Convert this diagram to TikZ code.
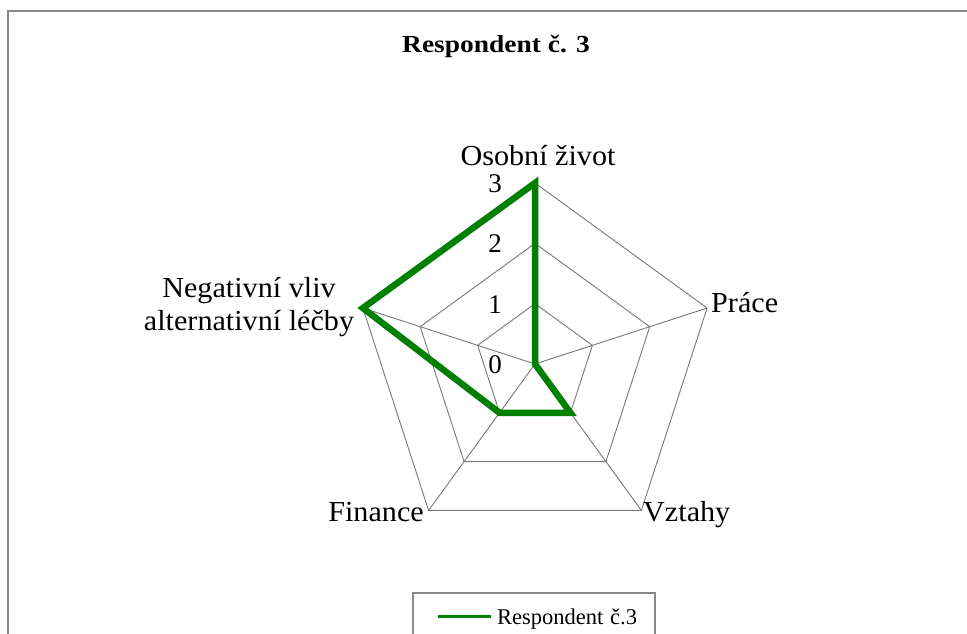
\documentclass[tikz,border=0pt]{standalone}
\usepackage{fontspec}
\usepackage{graphicx}
\setmainfont{Liberation Serif}
\usetikzlibrary{calc}
\definecolor{framegray}{RGB}{136,136,136}
\definecolor{gridgray}{RGB}{120,120,120}
\definecolor{seriesgreen}{RGB}{0,128,0}
% horizontally widened text
\newcommand\hstretch[2]{\scalebox{#1}[1]{#2}}
\begin{document}
\begin{tikzpicture}[x=1pt,y=1pt,
  chartframe/.style={draw=framegray,line width=1.6pt},
  gridline/.style={draw=gridgray,line width=0.9pt},
  seriesline/.style={draw=seriesgreen,line width=6.5pt,line join=miter,miter limit=10},
  legendframe/.style={draw=framegray,line width=1.3pt},
  legendline/.style={draw=seriesgreen,line width=3pt},
  titlelabel/.style={inner sep=0pt,font=\fontsize{24.5}{29}\selectfont\bfseries},
  catlabel/.style={inner sep=0pt,font=\fontsize{29}{32.5}\selectfont},
  ticklabel/.style={inner sep=0pt,font=\fontsize{27}{30}\selectfont},
  legendlabel/.style={inner sep=0pt,font=\fontsize{22.5}{27}\selectfont}]
\clip (0,0) rectangle (967,634);
\fill[white] (0,0) rectangle (967,634);
% chart area border (runs past the right and bottom edges)
\draw[chartframe] (8,623) rectangle (1000,-50);

% title
\node[titlelabel,anchor=base] (title) at (496,581.7) {\hstretch{1.12}{Respondent č. 3}};

% radar grid: centre, spokes and rings for 1, 2, 3
\coordinate (C) at (535,270);
\def\ru{60.33}
\foreach \i/\a in {0/90,1/18,2/-54,3/-126,4/162}{
  \coordinate (ax\i) at ($(C)+({\a}:{3*\ru})$);
}
\foreach \v in {1,2,3}{
  \draw[gridline] ($(C)+(90:{\v*\ru})$) -- ($(C)+(18:{\v*\ru})$)
    -- ($(C)+(-54:{\v*\ru})$) -- ($(C)+(-126:{\v*\ru})$)
    -- ($(C)+(162:{\v*\ru})$) -- cycle;
}
\foreach \i in {0,...,4}{
  \draw[gridline] (C) -- (ax\i);
}

% data series: 3, 0, 1, 1, 3
\coordinate (s0) at ($(C)+(90:{3*\ru})$);
\coordinate (s1) at (C);
\coordinate (s2) at ($(C)+(-54:{1*\ru})$);
\coordinate (s3) at ($(C)+(-126:{1*\ru})$);
\coordinate (s4) at ($(C)+(162:{3*\ru})$);
\draw[seriesline] (s0) -- (s1) -- (s2) -- (s3) -- (s4) -- cycle;

% axis scale
\node[ticklabel,anchor=base] (t0) at (495,260.5) {0};
\node[ticklabel,anchor=base] (t1) at (495,320.8) {1};
\node[ticklabel,anchor=base] (t2) at (495,381.2) {2};
\node[ticklabel,anchor=base] (t3) at (495,441.5) {3};

% category labels
\node[catlabel,anchor=base] (osobni) at (538,468) {\hstretch{1.04}{Osobní život}};
\node[catlabel,anchor=base west] (prace) at (711,321) {\hstretch{1.04}{Práce}};
\node[catlabel,anchor=base west] (vztahy) at (643,112) {\hstretch{1.04}{Vztahy}};
\node[catlabel,anchor=base east] (finance) at (424,112) {\hstretch{1.04}{Finance}};
\node[catlabel,anchor=center] (negativni) at (249,326.3)
  {\hstretch{1.04}{\begin{tabular}{@{}c@{}}Negativní vliv\\alternativní léčby\end{tabular}}};

% legend
\draw[legendframe] (413,41) rectangle (655,-20);
\coordinate (lgA) at (438,17);
\coordinate (lgB) at (491,17);
\draw[legendline] (lgA) -- (lgB);
\node[legendlabel,anchor=base west] (legendtext) at (497,9) {Respondent\hspace{0.3em}č.3};
\end{tikzpicture}
\end{document}
